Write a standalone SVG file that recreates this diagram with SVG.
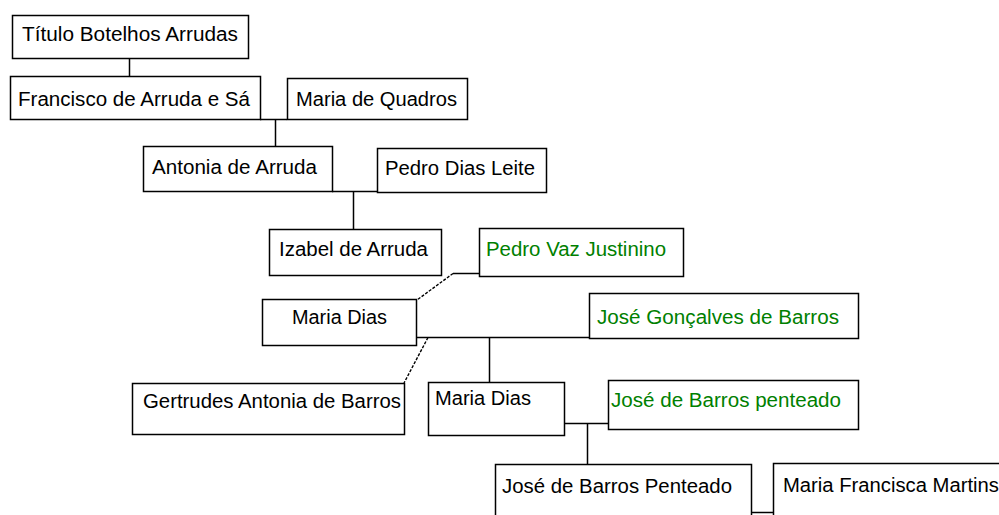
<svg xmlns="http://www.w3.org/2000/svg" width="999" height="515" viewBox="0 0 999 515">
<style>
.box{fill:#fff;stroke:#000;stroke-width:1.5}
.t{font-family:"Liberation Sans",Arial,sans-serif;font-size:20px;fill:#000}
.g{fill:#008000}
.c{stroke:#000;stroke-width:1.5;fill:none}
.d{stroke:#000;stroke-width:1.4;fill:none;stroke-dasharray:3 1.5}
</style>
<rect width="999" height="515" fill="#fff"/>
<g id="connectors">
<path class="c" d="M129.5 58V76"/>
<path class="c" d="M260 119.5H287M275.5 119.5V146"/>
<path class="c" d="M332 191.5H377M353.5 191.5V229"/>
<path class="c" d="M453 273.5H479"/>
<path class="d" d="M453 273.5L417 300"/>
<path class="c" d="M416 337.5H589M489.5 337.5V382"/>
<path class="d" d="M428 337.5L404 383"/>
<path class="c" d="M564 423.5H608M587.5 423.5V464"/>
<path class="c" d="M751 512.5H773"/>
</g>
<g id="n1"><rect class="box" x="12.5" y="15.5" width="236" height="43"/><text class="t" x="22" y="41" textLength="216" lengthAdjust="spacingAndGlyphs">Título Botelhos Arrudas</text></g>
<g id="n2"><rect class="box" x="10.5" y="76.5" width="250" height="43"/><text class="t" x="18" y="106" textLength="232" lengthAdjust="spacingAndGlyphs">Francisco de Arruda e Sá</text></g>
<g id="n3"><rect class="box" x="287.5" y="78.5" width="180" height="41"/><text class="t" x="296" y="106" textLength="161" lengthAdjust="spacingAndGlyphs">Maria de Quadros</text></g>
<g id="n4"><rect class="box" x="143.5" y="146.5" width="189" height="45"/><text class="t" x="152" y="174" textLength="165" lengthAdjust="spacingAndGlyphs">Antonia de Arruda</text></g>
<g id="n5"><rect class="box" x="377.5" y="148.5" width="169" height="44"/><text class="t" x="385" y="175" textLength="150" lengthAdjust="spacingAndGlyphs">Pedro Dias Leite</text></g>
<g id="n6"><rect class="box" x="269.5" y="229.5" width="172" height="46"/><text class="t" x="279" y="256" textLength="149" lengthAdjust="spacingAndGlyphs">Izabel de Arruda</text></g>
<g id="n7"><rect class="box" x="479.5" y="228.5" width="204" height="48"/><text class="t g" x="486" y="256" textLength="180" lengthAdjust="spacingAndGlyphs">Pedro Vaz Justinino</text></g>
<g id="n8"><rect class="box" x="262.5" y="299.5" width="154" height="46"/><text class="t" x="292" y="324" textLength="95" lengthAdjust="spacingAndGlyphs">Maria Dias</text></g>
<g id="n9"><rect class="box" x="589.5" y="293.5" width="269" height="45"/><text class="t g" x="597" y="324" textLength="242" lengthAdjust="spacingAndGlyphs">José Gonçalves de Barros</text></g>
<g id="n10"><rect class="box" x="132.5" y="383.5" width="272" height="51"/><text class="t" x="143" y="408" textLength="258" lengthAdjust="spacingAndGlyphs">Gertrudes Antonia de Barros</text></g>
<g id="n11"><rect class="box" x="428.5" y="382.5" width="136" height="53"/><text class="t" x="435" y="405" textLength="96" lengthAdjust="spacingAndGlyphs">Maria Dias</text></g>
<g id="n12"><rect class="box" x="608.5" y="380.5" width="250" height="49"/><text class="t g" x="611" y="407" textLength="230" lengthAdjust="spacingAndGlyphs">José de Barros penteado</text></g>
<g id="n13"><rect class="box" x="495.5" y="464.5" width="256" height="60"/><text class="t" x="502" y="493" textLength="230" lengthAdjust="spacingAndGlyphs">José de Barros Penteado</text></g>
<g id="n14"><rect class="box" x="773.5" y="463.5" width="240" height="60"/><text class="t" x="783" y="492" textLength="216" lengthAdjust="spacingAndGlyphs">Maria Francisca Martins</text></g>
</svg>
